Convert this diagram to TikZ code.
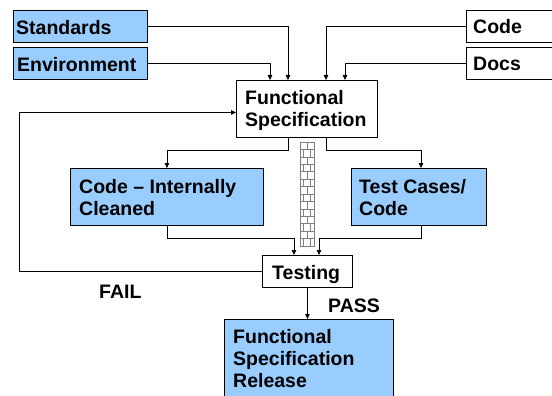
\documentclass[tikz,border=0pt]{standalone}
\usepackage{fontspec}
\setmainfont{Liberation Sans}
\usetikzlibrary{arrows.meta,calc}
\definecolor{lblue}{HTML}{99CCFF}
\definecolor{wallgray}{HTML}{808080}
\begin{document}
\begin{tikzpicture}[x=1pt,y=-1pt,
  box/.style={draw=black,line width=0.9pt,anchor=north west,inner sep=0pt},
  bluebox/.style={box,fill=lblue},
  lbl/.style={anchor=base west,inner sep=0pt,align=left,font=\fontsize{19.5}{22}\selectfont\bfseries},
  arr/.style={line width=0.8pt,-{Triangle[length=5pt,width=4.5pt]}},
  ln/.style={line width=0.8pt}]
\useasboundingbox (0,0) rectangle (552,396);
\clip (0,0) rectangle (552,396);
% boxes
\node[bluebox,minimum width=134pt,minimum height=32pt] (std) at (13,10) {};
\node[bluebox,minimum width=134pt,minimum height=32pt] (env) at (13,47) {};
\node[box,minimum width=94pt,minimum height=32pt] (code) at (466,10) {};
\node[box,minimum width=94pt,minimum height=32pt] (docs) at (466,47) {};
\node[box,minimum width=141pt,minimum height=57pt] (fs) at (236,80) {};
\node[bluebox,minimum width=193pt,minimum height=57pt] (cic) at (70,168) {};
\node[bluebox,minimum width=135pt,minimum height=57pt] (tcc) at (351,168) {};
\node[box,minimum width=90pt,minimum height=32pt] (tst) at (262,255) {};
\node[bluebox,minimum width=169pt,minimum height=85pt] (fsr) at (224,319) {};
% labels (base = baseline of the last line)
\node[lbl] (tstd) at (16,34.5) {Standards};
\node[lbl] (tenv) at (17,71.5) {Environment};
\node[lbl] (tcode) at (473,34) {Code};
\node[lbl] (tdocs) at (473,71) {Docs};
\node[lbl] (tfs) at (245,126) {Functional\\Specification};
\node[lbl] (tcic) at (79,215.5) {Code – Internally\\Cleaned};
\node[lbl] (ttcc) at (359,215.5) {Test Cases/\\Code};
\node[lbl] (ttst) at (272,279) {Testing};
\node[lbl] (tfsr) at (233,387) {Functional\\Specification\\Release};
\node[lbl] (tfail) at (99,298) {FAIL};
\node[lbl] (tpass) at (328,312) {PASS};
% wall
\node[draw=wallgray,fill=white,line width=0.7pt,anchor=north west,inner sep=0pt,
      minimum width=14pt,minimum height=104pt] (wall) at (300,142) {};
\foreach \i in {1,...,13}
  \draw[wallgray,line width=0.6pt] (300,142+\i*7.43) -- (314,142+\i*7.43);
\foreach \i in {0,2,...,12}
  \draw[wallgray,line width=0.6pt] (307,142+\i*7.43) -- (307,142+\i*7.43+7.43);
\foreach \i in {1,3,...,13}
  \draw[wallgray,line width=0.6pt] (303.5,142+\i*7.43) -- (303.5,142+\i*7.43+7.43)
                                    (310.5,142+\i*7.43) -- (310.5,142+\i*7.43+7.43);
% inputs
\draw[arr] (std.east) -| ([xshift=52pt]fs.north west);
\draw[arr] (env.east) -| ([xshift=34pt]fs.north west);
\draw[arr] (code.west) -| ([xshift=90pt]fs.north west);
\draw[arr] (docs.west) -| ([xshift=109pt]fs.north west);
% split
\draw[arr] ([xshift=52pt]fs.south west) -- ++(0,12) -| (cic.north);
\draw[arr] ([xshift=90pt]fs.south west) -- ++(0,12) -| ([xshift=70pt]tcc.north west);
% merge
\draw[arr] (cic.south) -- ++(0,12) -| ([xshift=32pt]tst.north west);
\draw[arr] ([xshift=70pt]tcc.south west) -- ++(0,12) -| ([xshift=57pt]tst.north west);
% pass / fail
\draw[arr] (tst.south) -- (tst.south |- fsr.north);
\draw[arr] (tst.west) -- ++(-243,0) |- ([yshift=-3.5pt]fs.west);
\end{tikzpicture}
\end{document}
